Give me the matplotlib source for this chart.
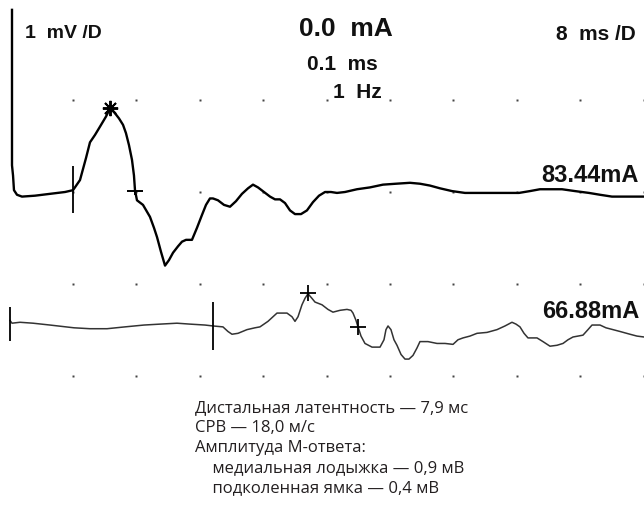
import matplotlib
matplotlib.use('Agg')
import matplotlib.pyplot as plt
from matplotlib import font_manager
import numpy as np


def pick(names):
    for n in names:
        try:
            font_manager.findfont(n, fallback_to_default=False)
            return n
        except ValueError:
            pass
    return 'DejaVu Sans'


# upper trace: distal stimulation (time in ms from stimulus, amplitude in mV)
upper_t = [0, 0, 0.13, 0.25, 0.63, 1.26, 2.90, 4.79, 6.69, 7.70, 8.58, 9.34, 9.84,
           10.47, 11.10, 11.86, 12.37, 12.87, 13.50, 14.01, 14.38, 14.76, 15.14,
           15.39, 15.52, 15.77, 16.53, 17.41, 17.92, 18.30, 18.80, 19.31, 19.81,
           20.32, 20.95, 21.45, 21.96, 22.71, 23.34, 23.97, 24.48, 24.98, 25.36,
           25.99, 26.75, 27.51, 28.26, 29.02, 29.78, 30.41, 31.04, 31.80, 32.56,
           33.19, 33.82, 34.45, 35.08, 35.71, 36.47, 37.22, 37.98, 38.74, 39.50,
           40.25, 41.01, 42.02, 43.53, 45.17, 46.81, 48.45, 50.22, 51.48, 52.74,
           54.01, 55.52, 57.16, 60.32, 63.97, 65.36, 66.62, 68.14, 69.40, 71.04,
           72.81, 74.20, 75.71, 77.98, 79.75]
upper_mv = [1.98, 0.29, 0.18, 0.02, -0.03, -0.05, -0.04, -0.02, 0, 0.02, 0.13, 0.37,
            0.54, 0.62, 0.71, 0.82, 0.91, 0.87, 0.80, 0.73, 0.64, 0.51, 0.35, 0.18,
            0.02, -0.09, -0.14, -0.27, -0.39, -0.49, -0.65, -0.80, -0.74, -0.66,
            -0.59, -0.54, -0.52, -0.52, -0.39, -0.25, -0.14, -0.07, -0.07, -0.09,
            -0.14, -0.16, -0.10, -0.02, 0.04, 0.08, 0.05, 0, -0.05, -0.08, -0.08,
            -0.12, -0.20, -0.24, -0.24, -0.20, -0.11, -0.04, 0, 0, -0.01, 0, 0.03,
            0.05, 0.08, 0.09, 0.10, 0.09, 0.07, 0.04, 0.01, -0.01, -0.01, -0.01,
            0.01, 0.03, 0.03, 0.03, 0.01, -0.01, -0.03, -0.05, -0.05, -0.05]

# lower trace: popliteal fossa stimulation
lower_t = [-0.25, 0, 1.01, 2.65, 4.79, 6.81, 7.82, 9.84, 11.99, 14.26, 16.66, 18.68,
           20.82, 22.46, 24.35, 25.36, 26.62, 27.25, 27.76, 28.52, 29.65, 30.66,
           31.29, 32.30, 33.44, 34.70, 35.33, 35.71, 36.09, 36.59, 36.97, 37.35,
           37.85, 38.23, 39.12, 39.87, 40.50, 41.39, 42.27, 42.78, 43.03, 43.41,
           43.66, 44.04, 44.54, 45.43, 46.44, 46.94, 47.19, 47.45, 47.82, 48.20,
           48.58, 49.09, 49.59, 50.09, 50.60, 51.10, 51.48, 52.49, 53.63, 54.64,
           55.65, 56.28, 56.91, 57.79, 58.68, 59.94, 61.20, 62.21, 63.09, 63.60,
           64.10, 64.61, 65.11, 66.25, 67.00, 67.89, 68.77, 69.53, 70.16, 70.79,
           72.05, 72.68, 73.19, 74.20, 74.95, 75.84, 76.72, 77.98, 78.86, 79.75]
lower_mv = [0.05, 0.02, 0.03, 0.02, 0, -0.02, -0.03, -0.04, -0.04, -0.02, 0, 0.01,
            0.02, 0.01, 0, -0.01, -0.02, -0.07, -0.10, -0.09, -0.05, -0.03, -0.02,
            0.04, 0.13, 0.13, 0.09, 0.04, 0.09, 0.22, 0.29, 0.34, 0.29, 0.25, 0.22,
            0.17, 0.14, 0.16, 0.17, 0.16, 0.13, 0.05, -0.02, -0.12, -0.20, -0.24,
            -0.24, -0.16, -0.05, -0.01, -0.05, -0.16, -0.22, -0.32, -0.37, -0.37,
            -0.33, -0.25, -0.18, -0.18, -0.20, -0.20, -0.21, -0.16, -0.14, -0.12,
            -0.09, -0.08, -0.05, -0.01, 0.03, 0.01, -0.02, -0.09, -0.14, -0.14,
            -0.18, -0.23, -0.22, -0.20, -0.16, -0.13, -0.11, -0.05, 0, 0, -0.03,
            -0.05, -0.07, -0.10, -0.12, -0.13]

# cursors: onset ticks, peaks (*) and crossings (+)
upper_onset = 7.70
upper_peak = (12.37, 0.91)
upper_cross = (15.52, 0.01)
lower_stim = -0.25
lower_onset = 25.36
lower_plus = [(37.35, 0.35), (43.66, -0.02)]

header_left = '1  mV /D'
header_mid = ['0.0  mA', '0.1  ms', '1  Hz']
header_right = '8  ms /D'
currents = ['83.44mA', '66.88mA']

notes = ['Дистальная латентность — 7,9 мс',
         'СРВ — 18,0 м/с',
         'Амплитуда М-ответа:',
         '    медиальная лодыжка — 0,9 мВ',
         '    подколенная ямка — 0,4 мВ']

lower_offset = -1.446   # mV shift of the second sweep on screen
ms_per_div = 8
grid_t0 = 7.70
grid_rows = [1, 0, -1, -2]

mono = pick(['Liberation Sans', 'Arial'])
body = pick(['Open Sans', 'Noto Sans'])

fig = plt.figure(figsize=(6.44, 5.21), dpi=100)
ax = fig.add_axes([0, 0, 1, 1])
ax.set_xlim(-1.514, 79.75)
ax.set_ylim(-3.576, 2.087)
ax.axis('off')

# dotted screen grid
gx = grid_t0 + ms_per_div * np.arange(10)
for r in grid_rows:
    ax.plot(gx, [r] * len(gx), ls='none', marker='s', ms=1.6, color='#444444',
            mec='none', zorder=1)

ax.plot(upper_t, upper_mv, color='black', lw=1.7, zorder=3,
        solid_joinstyle='round')
ax.plot(lower_t, np.array(lower_mv) + lower_offset, color='#333333', lw=1.1,
        zorder=3, solid_joinstyle='round')

ax.vlines(upper_onset, -0.23, 0.28, color='black', lw=1.3, zorder=4)
ax.plot(*upper_peak, marker=(8, 2, 0), ms=11, mew=1.4, color='black', zorder=4)
ax.plot(*upper_cross, marker='_', ms=12, mew=1.4, color='black', zorder=4)
ax.plot(upper_cross[0], upper_cross[1], marker='|', ms=6, mew=1.4, color='black',
        zorder=4)

ax.vlines(lower_stim, lower_offset - 0.17, lower_offset + 0.20, color='black',
          lw=1.3, zorder=4)
ax.vlines(lower_onset, lower_offset - 0.27, lower_offset + 0.25, color='black',
          lw=1.3, zorder=4)
for t, v in lower_plus:
    ax.plot(t, v + lower_offset, marker='+', ms=11, mew=1.3, color='black',
            zorder=4)


def label(x, y, s, size, ha='left'):
    fig.text(x / 644, 1 - y / 521, s, fontsize=size, family=mono,
             weight='bold', ha=ha, va='center', color='#111111')


label(25, 33, header_left, 14)
label(346, 29, header_mid[0], 19, ha='center')
label(342, 64, header_mid[1], 15, ha='center')
label(333, 93, header_mid[2], 15)
label(636, 35, header_right, 15, ha='right')
label(639, 176, currents[0], 17, ha='right')
label(639, 312, currents[1], 17, ha='right')

for i, line in enumerate(notes):
    fig.text(195 / 644, 1 - (408 + 20 * i) / 521, line, fontsize=12,
             family=body, color='#231f20', va='center', ha='left')

fig.savefig('out.png', dpi=100)
